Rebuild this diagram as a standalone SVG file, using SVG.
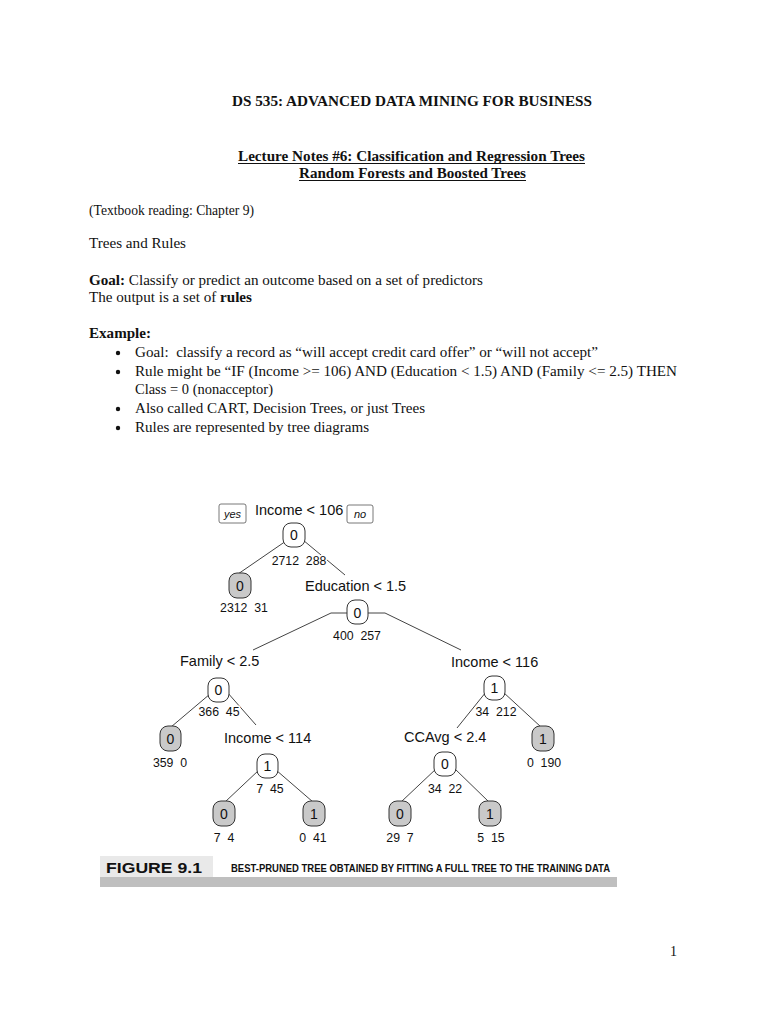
<svg xmlns="http://www.w3.org/2000/svg" width="768" height="1024" viewBox="0 0 768 1024">
<style>
.t{font-family:"Liberation Serif","Times New Roman",serif;font-size:14px;fill:#111}
.b{font-weight:bold}
.s{font-family:"Liberation Sans",Arial,sans-serif;fill:#111}
.lab{font-size:14.5px}
.cnt{font-size:12.3px;stroke:#fff;stroke-width:3;paint-order:stroke;stroke-linejoin:round;white-space:pre}
.nd{fill:#fff;stroke:#333;stroke-width:1}
.lf{fill:#c9c9c9;stroke:#333;stroke-width:1}
.nt{font-size:14px;text-anchor:middle}
.e{stroke:#444;stroke-width:1;fill:none}
</style>
<rect width="768" height="1024" fill="#fff"/>
<g id="header">
<text class="t b" x="232" y="106" textLength="360" lengthAdjust="spacingAndGlyphs">DS 535: ADVANCED DATA MINING FOR BUSINESS</text>
<text class="t b" x="238" y="161" textLength="347" lengthAdjust="spacingAndGlyphs">Lecture Notes #6: Classification and Regression Trees</text>
<line x1="238" y1="163.5" x2="585" y2="163.5" stroke="#111" stroke-width="1"/>
<text class="t b" x="299" y="178" textLength="227" lengthAdjust="spacingAndGlyphs">Random Forests and Boosted Trees</text>
<line x1="299" y1="180.5" x2="526" y2="180.5" stroke="#111" stroke-width="1.2"/>
</g>
<g id="body">
<text class="t" x="89" y="215" textLength="165" lengthAdjust="spacingAndGlyphs">(Textbook reading: Chapter 9)</text>
<text class="t" x="89" y="248" textLength="97" lengthAdjust="spacingAndGlyphs">Trees and Rules</text>
<text class="t" x="89" y="285" textLength="394" lengthAdjust="spacingAndGlyphs"><tspan class="b">Goal:</tspan> Classify or predict an outcome based on a set of predictors</text>
<text class="t" x="89" y="302" textLength="163" lengthAdjust="spacingAndGlyphs">The output is a set of <tspan class="b">rules</tspan></text>
<text class="t b" x="89" y="338" textLength="62" lengthAdjust="spacingAndGlyphs">Example:</text>
<circle cx="118" cy="353" r="2.2" fill="#111"/>
<text class="t" x="135" y="357" textLength="463" lengthAdjust="spacingAndGlyphs" style="white-space:pre">Goal:  classify a record as “will accept credit card offer” or “will not accept”</text>
<circle cx="118" cy="372" r="2.2" fill="#111"/>
<text class="t" x="135" y="376" textLength="542" lengthAdjust="spacingAndGlyphs">Rule might be “IF (Income &gt;= 106) AND (Education &lt; 1.5) AND (Family &lt;= 2.5) THEN</text>
<text class="t" x="135" y="394" textLength="138" lengthAdjust="spacingAndGlyphs">Class = 0 (nonacceptor)</text>
<circle cx="118" cy="409" r="2.2" fill="#111"/>
<text class="t" x="135" y="413" textLength="290" lengthAdjust="spacingAndGlyphs">Also called CART, Decision Trees, or just Trees</text>
<circle cx="118" cy="428" r="2.2" fill="#111"/>
<text class="t" x="135" y="432" textLength="234" lengthAdjust="spacingAndGlyphs">Rules are represented by tree diagrams</text>
</g>
<g id="connectors">
<path class="e" d="M286 541 L238 574"/>
<path class="e" d="M303 540 L345 575"/>
<path class="e" d="M348 613 H331 L253 650"/>
<path class="e" d="M367 613 H385 L461 650"/>
<path class="e" d="M210 694 L171 727"/>
<path class="e" d="M227 692 L256 725"/>
<path class="e" d="M259 770 L225 802"/>
<path class="e" d="M276 770 L313 802"/>
<path class="e" d="M486 692 L457 728"/>
<path class="e" d="M503 692 L541 727"/>
<path class="e" d="M437 768 L401 802"/>
<path class="e" d="M454 768 L489 802"/>
</g>
<g id="n-root">
<rect x="219" y="504" width="27" height="19" rx="2" fill="#fff" stroke="#555" stroke-width="0.8"/>
<text class="s" x="232.5" y="518" font-size="11" font-style="italic" text-anchor="middle">yes</text>
<text class="s lab" x="255" y="515">Income &lt; 106</text>
<rect x="347" y="505" width="26" height="18" rx="2" fill="#fff" stroke="#555" stroke-width="0.8"/>
<text class="s" x="360" y="518" font-size="11" font-style="italic" text-anchor="middle">no</text>
<rect class="nd" x="283" y="523" width="22" height="24" rx="8"/>
<text class="s nt" x="294" y="540">0</text>
<text class="s cnt" x="299" y="565" text-anchor="middle">2712  288</text>
</g>
<g id="n-leaf1">
<rect class="lf" x="229" y="573" width="22" height="25" rx="8"/>
<text class="s nt" x="240" y="591">0</text>
<text class="s cnt" x="244" y="612" text-anchor="middle">2312  31</text>
</g>
<g id="n-edu">
<text class="s lab" x="305" y="591">Education &lt; 1.5</text>
<rect class="nd" x="347" y="600" width="21" height="24" rx="8"/>
<text class="s nt" x="357.5" y="618">0</text>
<text class="s cnt" x="357" y="640" text-anchor="middle">400  257</text>
</g>
<g id="n-family">
<text class="s lab" x="180" y="666">Family &lt; 2.5</text>
<rect class="nd" x="208" y="678" width="21" height="24" rx="8"/>
<text class="s nt" x="218.5" y="695">0</text>
<text class="s cnt" x="219" y="716" text-anchor="middle">366  45</text>
</g>
<g id="n-leaf2">
<rect class="lf" x="160" y="726" width="21" height="25" rx="8"/>
<text class="s nt" x="170.5" y="744">0</text>
<text class="s cnt" x="170" y="767" text-anchor="middle">359  0</text>
</g>
<g id="n-inc114">
<text class="s lab" x="224" y="743">Income &lt; 114</text>
<rect class="nd" x="257" y="754" width="21" height="24" rx="8"/>
<text class="s nt" x="267.5" y="771">1</text>
<text class="s cnt" x="270" y="793" text-anchor="middle">7  45</text>
</g>
<g id="n-leaf3">
<rect class="lf" x="213" y="801" width="22" height="25" rx="8"/>
<text class="s nt" x="224" y="819">0</text>
<text class="s cnt" x="224" y="842" text-anchor="middle">7  4</text>
</g>
<g id="n-leaf4">
<rect class="lf" x="303" y="801" width="22" height="25" rx="8"/>
<text class="s nt" x="314" y="819">1</text>
<text class="s cnt" x="313" y="842" text-anchor="middle">0  41</text>
</g>
<g id="n-inc116">
<text class="s lab" x="451" y="667">Income &lt; 116</text>
<rect class="nd" x="484" y="676" width="21" height="24" rx="8"/>
<text class="s nt" x="494.5" y="693">1</text>
<text class="s cnt" x="496" y="716" text-anchor="middle">34  212</text>
</g>
<g id="n-leaf5">
<rect class="lf" x="532" y="726" width="22" height="25" rx="8"/>
<text class="s nt" x="543" y="744">1</text>
<text class="s cnt" x="544" y="767" text-anchor="middle">0  190</text>
</g>
<g id="n-ccavg">
<text class="s lab" x="404" y="742">CCAvg &lt; 2.4</text>
<rect class="nd" x="434" y="752" width="22" height="24" rx="8"/>
<text class="s nt" x="445" y="769">0</text>
<text class="s cnt" x="445" y="793" text-anchor="middle">34  22</text>
</g>
<g id="n-leaf6">
<rect class="lf" x="389" y="801" width="22" height="25" rx="8"/>
<text class="s nt" x="400" y="819">0</text>
<text class="s cnt" x="400" y="842" text-anchor="middle">29  7</text>
</g>
<g id="n-leaf7">
<rect class="lf" x="479" y="801" width="22" height="25" rx="8"/>
<text class="s nt" x="490" y="819">1</text>
<text class="s cnt" x="491" y="842" text-anchor="middle">5  15</text>
</g>
<g id="caption">
<rect x="100" y="856" width="113" height="21" fill="#e9e9e9"/>
<rect x="100" y="877" width="517" height="10" fill="#bfbfbf"/>
<text class="s" x="106" y="873" font-size="15" font-weight="bold" fill="#222" textLength="96" lengthAdjust="spacingAndGlyphs">FIGURE 9.1</text>
<text class="s" x="231" y="872" font-size="10.5" font-weight="bold" fill="#222" textLength="379" lengthAdjust="spacingAndGlyphs">BEST-PRUNED TREE OBTAINED BY FITTING A FULL TREE TO THE TRAINING DATA</text>
</g>
<text class="t" x="670" y="956" font-size="13">1</text>
</svg>
